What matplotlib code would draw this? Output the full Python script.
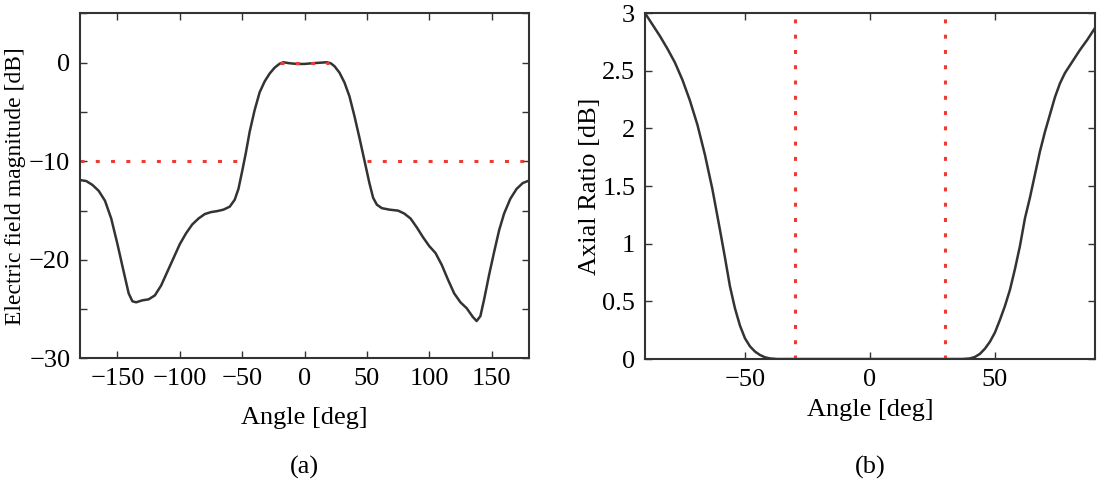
import matplotlib
matplotlib.use("Agg")
import matplotlib.pyplot as plt
from matplotlib.ticker import MultipleLocator, FuncFormatter

#---------------------------data---------------------------#
# (a) electric field magnitude vs angle
angle_a = [-180, -175, -170, -165, -160, -155, -150, -145, -141, -138, -135, -130,
           -125, -120, -115, -110, -105, -100, -95, -90, -85, -80, -75, -70, -65,
           -60, -56, -53, -50, -47, -44, -40, -36, -32, -28, -24, -20, -17, -12,
           -6, 0, 6, 12, 18, 21, 24, 28, 32, 36, 40, 44, 48, 52, 55, 58, 62, 68,
           75, 80, 85, 90, 95, 100, 105, 110, 115, 120, 125, 130, 135, 138, 141,
           144, 148, 152, 156, 160, 165, 170, 175, 180]
efield_db = [-11.9, -12.0, -12.4, -13.0, -14.0, -15.8, -18.4, -21.2, -23.4, -24.2,
             -24.3, -24.1, -24.0, -23.6, -22.6, -21.2, -19.8, -18.4, -17.3, -16.4,
             -15.8, -15.35, -15.15, -15.05, -14.9, -14.6, -13.9, -12.8, -11.0, -9.1,
             -7.0, -4.8, -3.0, -1.9, -1.1, -0.5, -0.1, 0.05, -0.05, -0.12, -0.12,
             -0.05, 0.0, 0.05, -0.05, -0.35, -1.0, -2.0, -3.4, -5.4, -7.6, -9.9,
             -12.2, -13.7, -14.4, -14.75, -14.9, -15.0, -15.3, -15.8, -16.7, -17.7,
             -18.6, -19.3, -20.5, -22.0, -23.4, -24.3, -24.9, -25.8, -26.2, -25.7,
             -24.0, -21.5, -19.2, -17.0, -15.3, -13.8, -12.8, -12.2, -11.95]
beam_edges = [-20, 20]          # main beam marker at 0 dB
level_left = [-180, -50]        # -10 dB reference segments
level_right = [50, 180]
ref_level = -10

# (b) axial ratio vs angle
angle_b = [-90, -87, -84, -81, -78, -75, -72, -69, -66, -63, -60, -58, -56, -54,
           -52, -50, -48, -46, -44, -42, -40, -37, -30, 0, 30, 37, 40, 42, 44, 46,
           48, 50, 52, 54, 56, 58, 60, 62, 64, 66, 68, 70, 72, 74, 76, 78, 81, 84,
           87, 90]
axial_ratio = [3.0, 2.90, 2.80, 2.69, 2.57, 2.42, 2.24, 2.03, 1.77, 1.47, 1.12, 0.88,
               0.63, 0.44, 0.29, 0.18, 0.11, 0.065, 0.035, 0.015, 0.005, 0.0, 0.0,
               0.0, 0.0, 0.0, 0.005, 0.018, 0.045, 0.09, 0.15, 0.23, 0.34, 0.46,
               0.60, 0.78, 0.98, 1.22, 1.40, 1.60, 1.80, 1.97, 2.12, 2.27, 2.39,
               2.48, 2.58, 2.68, 2.77, 2.87]
ar_marks = [-30, 30]
#------------------------------------------------------------------------------------#

plt.rcParams['font.family'] = ['Liberation Serif', 'DejaVu Serif']
plt.rcParams['font.size'] = 19
plt.rcParams['axes.unicode_minus'] = True

line_col = '#333333'
red = '#ee3a32'
dots = (1.3, 3.7)

fig = plt.figure(figsize=(11.04, 4.88), dpi=100)
ax_a = fig.add_axes([0.0725, 0.2654, 0.4067, 0.707])
ax_b = fig.add_axes([0.5842, 0.2643, 0.4076, 0.709])

# (a)
ax_a.plot(angle_a, efield_db, color=line_col, lw=1.8, solid_joinstyle='round')
ax_a.plot(level_left, [ref_level, ref_level], color=red, lw=2.2, dashes=dots)
ax_a.plot(level_right, [ref_level, ref_level], color=red, lw=2.2, dashes=dots)
ax_a.plot(beam_edges, [0, 0], color=red, lw=2.2, dashes=dots)
ax_a.set_xlim(-180, 180)
ax_a.set_ylim(-30, 5)
ax_a.xaxis.set_major_locator(MultipleLocator(50))
ax_a.yaxis.set_major_locator(MultipleLocator(5))
ax_a.yaxis.set_major_formatter(FuncFormatter(
    lambda v, p: ('\u2212%d' % abs(v) if v < 0 else '%d' % v) if int(round(v)) % 10 == 0 else ''))
ax_a.set_xlabel('Angle [deg]', labelpad=12)
ax_a.set_ylabel('Electric field magnitude [dB]', fontsize=17, labelpad=2)

# (b)
ax_b.plot(angle_b, axial_ratio, color=line_col, lw=1.8, solid_joinstyle='round')
for xm in ar_marks:
    ax_b.plot([xm, xm], [0, 3], color=red, lw=2.2, dashes=dots)
ax_b.set_xlim(-90, 90)
ax_b.set_ylim(0, 3)
ax_b.xaxis.set_major_locator(MultipleLocator(50))
ax_b.yaxis.set_major_locator(MultipleLocator(0.5))
ax_b.yaxis.set_major_formatter(FuncFormatter(lambda v, p: '%g' % v))
ax_b.set_xlabel('Angle [deg]', labelpad=6)
ax_b.set_ylabel('Axial Ratio [dB]', labelpad=1)

for ax in (ax_a, ax_b):
    ax.tick_params(direction='in', top=True, right=True, length=5, width=1,
                   color=line_col, pad=7)
    for s in ax.spines.values():
        s.set_color(line_col)
        s.set_linewidth(1.5)

fig.text(0.2755, 0.043, '(a)', ha='center', va='center')
fig.text(0.788, 0.043, '(b)', ha='center', va='center')

fig.savefig('out.png', dpi=100)
